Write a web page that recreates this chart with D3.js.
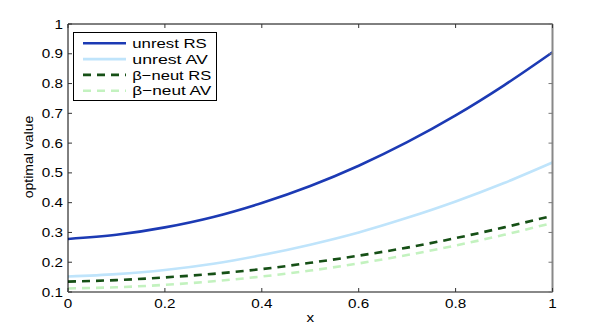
<!DOCTYPE html>
<html><head><meta charset="utf-8">
<script src="https://cdn.jsdelivr.net/npm/d3@7"></script>
<style>body{margin:0;background:#fff}text{font-family:"Liberation Sans",Arial,sans-serif;fill:#000}</style>
</head><body><svg id="c" width="599" height="327"></svg>
<script>
const xs = [0,0.1,0.2,0.3,0.4,0.5,0.6,0.7,0.8,0.9,1];
const unrestRS = [0.278,0.292,0.317,0.352,0.399,0.456,0.524,0.603,0.693,0.794,0.905];
const unrestAV = [0.152,0.160,0.174,0.195,0.224,0.259,0.300,0.349,0.404,0.466,0.535];
const betaRS   = [0.135,0.140,0.149,0.161,0.177,0.198,0.222,0.249,0.281,0.317,0.356];
const betaAV   = [0.112,0.116,0.124,0.136,0.152,0.172,0.196,0.224,0.256,0.292,0.332];
const seriesNames = ["unrest RS","unrest AV","\u03b2\u2212neut RS","\u03b2\u2212neut AV"];
const xTicks = [0,0.2,0.4,0.6,0.8,1];
const yTicks = [0.1,0.2,0.3,0.4,0.5,0.6,0.7,0.8,0.9,1];

const svg = d3.select("#c");
const L=68,R=552.5,T=24,B=292;
const x = d3.scaleLinear().domain([0,1]).range([L,R]);
const y = d3.scaleLinear().domain([0.1,1]).range([B,T]);
function txt(g,xx,yy,s,anchor,size,sx){
  return g.append("text").attr("transform",`translate(${xx},${yy}) scale(${sx},1)`)
    .attr("text-anchor",anchor).attr("font-size",size).text(s);
}
const styles = [
  {c:"#1c3ab4",d:null,data:unrestRS},
  {c:"#bfe4fb",d:null,data:unrestAV},
  {c:"#165016",d:"8,6",data:betaRS},
  {c:"#c3f2bf",d:"8,6",data:betaAV}
];
const line = d3.line().x((d,i)=>x(xs[i])).y(d=>y(d)).curve(d3.curveMonotoneX);
const g = svg.append("g");
styles.forEach(s=>{
  g.append("path").attr("d",line(s.data)).attr("fill","none").attr("stroke",s.c)
   .attr("stroke-width",2.6).attr("stroke-dasharray",s.d);
});
// axes box
const ax = svg.append("g");
ax.append("line").attr("x1",L).attr("x2",R).attr("y1",T).attr("y2",T).attr("stroke","#000");
ax.append("line").attr("x1",L).attr("x2",L).attr("y1",T).attr("y2",B).attr("stroke","#000");
ax.append("line").attr("x1",L).attr("x2",R).attr("y1",B).attr("y2",B).attr("stroke","#888").attr("stroke-width",2);
ax.append("line").attr("x1",R).attr("x2",R).attr("y1",T).attr("y2",B).attr("stroke","#888").attr("stroke-width",2);
xTicks.forEach(t=>{
  ax.append("line").attr("x1",x(t)).attr("x2",x(t)).attr("y1",B).attr("y2",B-4).attr("stroke","#333");
  ax.append("line").attr("x1",x(t)).attr("x2",x(t)).attr("y1",T).attr("y2",T+4).attr("stroke","#333");
  txt(ax,x(t),307.5,String(t),"middle",12.5,1.22);
});
yTicks.forEach(t=>{
  ax.append("line").attr("x1",L).attr("x2",L+4).attr("y1",y(t)).attr("y2",y(t)).attr("stroke","#333");
  ax.append("line").attr("x1",R).attr("x2",R-4).attr("y1",y(t)).attr("y2",y(t)).attr("stroke","#777");
  txt(ax,63,y(t)+4.5,String(t),"end",12.5,1.22);
});
txt(ax,(L+R)/2,321.5,"x","middle",12.5,1.22);
svg.append("text").attr("transform","translate(33,157) rotate(-90) scale(1.12,1)").attr("text-anchor","middle")
  .attr("font-size",12.5).text("optimal value");
// legend
const lg = svg.append("g");
lg.append("rect").attr("x",73.5).attr("y",32.5).attr("width",143).attr("height",68)
  .attr("fill","#fff").attr("stroke","#000");
const legendLen = [74.5,75.5,79,79];
styles.forEach((s,i)=>{
  const yy = 43.3 + i*15.8;
  lg.append("line").attr("x1",83).attr("x2",126).attr("y1",yy).attr("y2",yy)
    .attr("stroke",s.c).attr("stroke-width",2.6).attr("stroke-dasharray",s.d);
  lg.append("text").attr("x",132.3).attr("y",yy+4.6).attr("font-size",13.5)
    .attr("textLength",legendLen[i]).attr("lengthAdjust","spacingAndGlyphs").text(seriesNames[i]);
});
</script></body></html>
